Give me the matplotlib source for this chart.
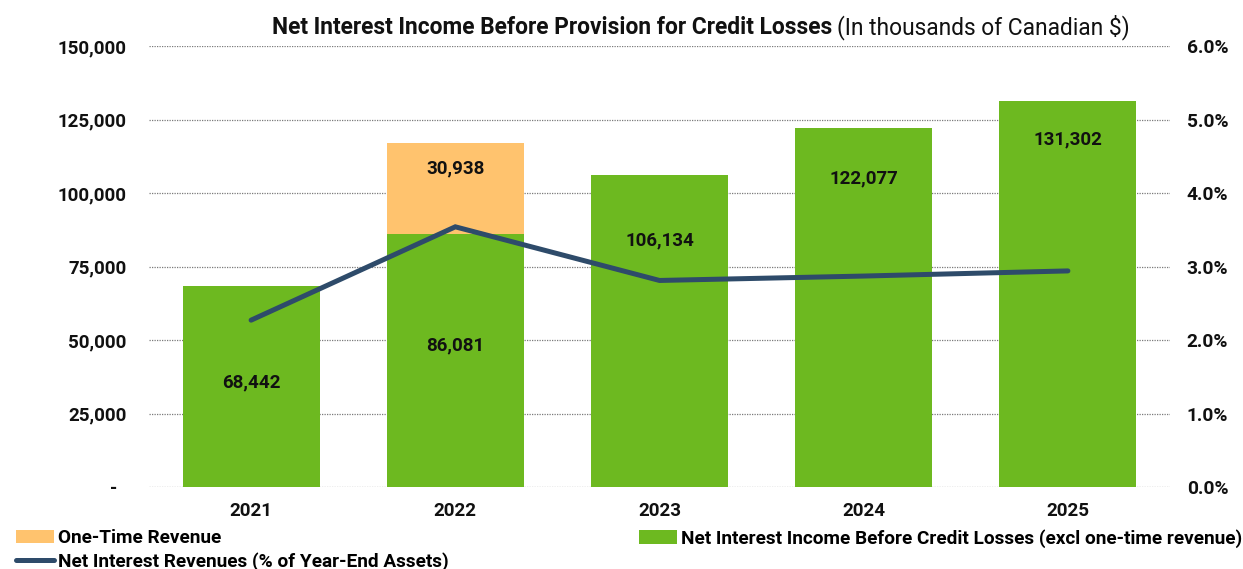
import matplotlib
matplotlib.use("Agg")
import matplotlib.pyplot as plt
from matplotlib.patches import Patch
from matplotlib.lines import Line2D
from matplotlib.ticker import FuncFormatter

# ---- data (thousands of CAD) ----
years = ["2021", "2022", "2023", "2024", "2025"]
core_nii = [68442, 86081, 106134, 122077, 131302]
one_time = [0, 30938, 0, 0, 0]
nim_pct = [2.27, 3.54, 2.81, 2.87, 2.94]  # % of year-end assets

left_ticks = [0, 25000, 50000, 75000, 100000, 125000, 150000]
right_ticks = [0.0, 1.0, 2.0, 3.0, 4.0, 5.0, 6.0]

# where each value label sits, as a fraction of its own segment height
core_label_frac = [0.52, 0.56, 0.79, 0.86, 0.90]
one_time_label_frac = 0.72

GREEN = "#6DB920"
ORANGE = "#FFC36E"
NAVY = "#2E4B6A"
FONT = "Roboto"

plt.rcParams["font.family"] = [FONT, "DejaVu Sans"]

fig = plt.figure(figsize=(12.43, 5.69), dpi=100)
ax = fig.add_axes([149 / 1243, 82 / 569, 1021 / 1243, 441 / 569])
ax2 = ax.twinx()

x = list(range(len(years)))
bw = 0.67
ax.bar(x, core_nii, width=bw, color=GREEN, zorder=2)
ax.bar(x, one_time, width=bw, bottom=core_nii, color=ORANGE, zorder=2)

for xi, v, f in zip(x, core_nii, core_label_frac):
    ax.text(xi, v * f, f"{v:,}", ha="center", va="center",
            fontsize=13.5, fontweight="bold", color="#111111", zorder=4)
for xi, base, v in zip(x, core_nii, one_time):
    if v:
        ax.text(xi, base + v * one_time_label_frac, f"{v:,}", ha="center",
                va="center", fontsize=13.5, fontweight="bold",
                color="#111111", zorder=4)

ax.set_xlim(-0.5, len(years) - 0.5)
ax.set_ylim(0, 150000)
ax.set_yticks(left_ticks)
ax.yaxis.set_major_formatter(FuncFormatter(
    lambda v, p: f"{int(v):,}" if v else "-  "))
ax.set_xticks(x)
ax.set_xticklabels(years)
ax.grid(axis="y", color="#7a7a7a", linestyle=(0, (1, 1)), linewidth=0.9,
        zorder=0)
ax.set_axisbelow(True)

ax2.plot(x, nim_pct, color=NAVY, linewidth=3.6, solid_capstyle="round",
         solid_joinstyle="miter", zorder=5)
ax2.set_ylim(0, 6.0)
ax2.set_yticks(right_ticks)
ax2.yaxis.set_major_formatter(FuncFormatter(lambda v, p: f"{v:.1f}%"))

for a in (ax, ax2):
    for s in a.spines.values():
        s.set_visible(False)
ax.tick_params(axis="y", length=0, pad=16, labelsize=13.5)
ax.tick_params(axis="x", length=0, pad=11, labelsize=13.5)
ax2.tick_params(axis="y", length=0, pad=12, labelsize=13.8)
for lbl in ax.get_yticklabels() + ax.get_xticklabels() + ax2.get_yticklabels():
    lbl.set_fontweight("bold")
    lbl.set_color("#111111")

# title: bold main text followed by a regular-weight unit note
t1 = fig.text(272 / 1243, 1 - 34 / 569, "Net Interest Income Before Provision for Credit Losses",
              fontsize=16.4, fontweight="bold", ha="left", va="baseline",
              color="#111111")
fig.canvas.draw()
bb = t1.get_window_extent()
fig.text((bb.x1 + 5) / fig.bbox.width, 1 - 34 / 569, "(In thousands of Canadian $)",
         fontsize=16.4, ha="left", va="baseline", color="#111111")

# legend
h_orange = Patch(facecolor=ORANGE, edgecolor="none")
h_green = Patch(facecolor=GREEN, edgecolor="none")
h_line = Line2D([], [], color=NAVY, linewidth=3.6, solid_capstyle="round")
leg_kw = dict(frameon=False, handlelength=2.0,
              handleheight=0.7, handletextpad=0.2, borderpad=0,
              borderaxespad=0, labelspacing=0.25,
              prop={"family": FONT, "weight": "bold", "size": 13.7})
leg1 = fig.legend([h_orange, h_line],
                  ["One-Time Revenue", "Net Interest Revenues (% of Year-End Assets)"],
                  loc="upper left", bbox_to_anchor=(16 / 1243, 1 - 529 / 569),
                  **leg_kw)
leg2 = fig.legend([h_green],
                  ["Net Interest Income Before Credit Losses (excl one-time revenue)"],
                  loc="upper left", bbox_to_anchor=(639 / 1243, 1 - 529 / 569),
                  **leg_kw)

fig.savefig("out.png", dpi=100, facecolor="white")
